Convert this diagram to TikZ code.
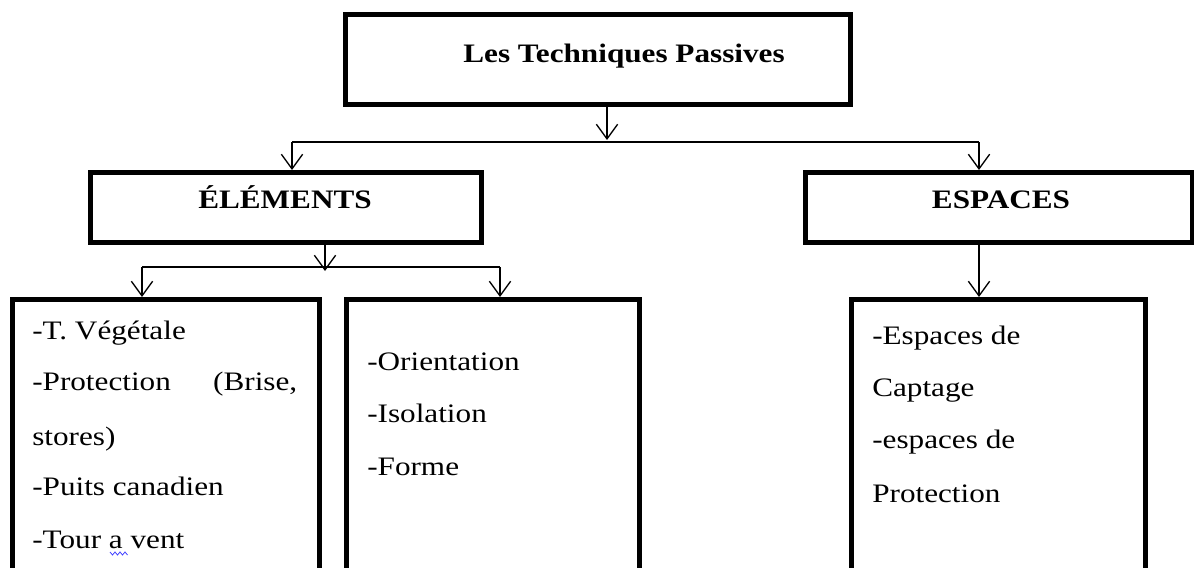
\documentclass[tikz,border=0pt]{standalone}
\usepackage{fontspec}
\setmainfont{Liberation Serif}[FakeStretch=1.17]
\usetikzlibrary{arrows.meta,fit}
\begin{document}
\begin{tikzpicture}[x=0.75pt,y=-0.75pt,
  box/.style={draw,line width=3.75pt,inner sep=0pt,rectangle},
  conn/.style={line width=1pt},
  arr/.style={conn,-{Straight Barb[length=11pt,width=16pt]}},
  txt/.style={inner sep=0pt,anchor=base west,font=\fontsize{20pt}{24pt}\selectfont},
  hd/.style={inner sep=0pt,anchor=base,font=\fontsize{20pt}{24pt}\selectfont\bfseries}]
\useasboundingbox (0,0) rectangle (1194,567);
\clip (0,0) rectangle (1194,567);
% boxes
\node[box,fit={(345.5,14.5)(850.5,104.5)}] (top) {};
\node[hd] (toptxt) at (624,63) {Les Techniques Passives};
\node[box,fit={(90.5,172.5)(481.5,242.5)}] (elem) {};
\node[hd] (elemtxt) at (285,208) {ÉLÉMENTS};
\node[box,fit={(805.5,172.5)(1192,242.5)}] (esp) {};
\node[hd] (esptxt) at (1001,208) {ESPACES};
\node[box,fit={(12.5,299.5)(319.5,620)}] (b1) {};
\node[box,fit={(346.5,299.5)(639.5,620)}] (b2) {};
\node[box,fit={(851.5,299.5)(1145.5,620)}] (b3) {};
% texts box 1
\node[txt] (t11) at (32,339) {-T. Végétale};
\node[txt] (t12) at (32,390) {\hbox to 198.75pt{-Protection\hfill(Brise,}};
\node[txt] (t13) at (32,445) {stores)};
\node[txt] (t14) at (32,495) {-Puits canadien};
\node[txt] (t15) at (32,548) {-Tour a vent};
\draw[blue!75,line width=0.6pt] (110,552) -- (112.5,555) -- (115,552) -- (117.5,555) -- (120,552) -- (122.5,555) -- (125,552) -- (127.5,555);
% texts box 2
\node[txt] (t21) at (367,370) {-Orientation};
\node[txt] (t22) at (367,422) {-Isolation};
\node[txt] (t23) at (367,475) {-Forme};
% texts box 3
\node[txt] (t31) at (872,344) {-Espaces de};
\node[txt] (t32) at (872,396) {Captage};
\node[txt] (t33) at (872,448) {-espaces de};
\node[txt] (t34) at (872,502) {Protection};
% connectors
\coordinate (j0) at (607,140);
\coordinate (jL) at (292,142);
\coordinate (jR) at (979,142);
\draw[arr] (top.south -| j0) -- (j0);
\draw[conn] (jL) -- (jR);
\draw[arr] (jL) -- (jL |- elem.north);
\draw[arr] (jR) -- (jR |- esp.north);
\coordinate (k0) at (325,271);
\coordinate (kL) at (142,267);
\coordinate (kR) at (500,267);
\draw[arr] (elem.south -| k0) -- (k0);
\draw[conn] (kL) -- (kR);
\draw[arr] (kL) -- (kL |- b1.north);
\draw[arr] (kR) -- (kR |- b2.north);
\draw[arr] (esp.south -| jR) -- (jR |- b3.north);
\end{tikzpicture}
\end{document}
